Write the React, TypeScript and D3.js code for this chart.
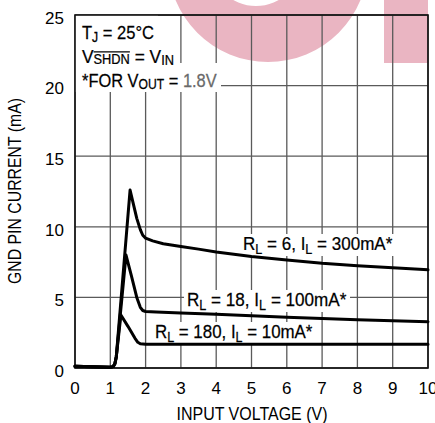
import React, { useEffect, useRef } from "react";
import * as d3 from "d3";

const W = 435;
const H = 423;
const FONT = "'Liberation Sans', Arial, Helvetica, sans-serif";

// axis ticks
const xTicks = [0, 1, 2, 3, 4, 5, 6, 7, 8, 9, 10];
const yTicks = [0, 5, 10, 15, 20, 25];
const xTickLabels = ["0", "1", "2", "3", "4", "5", "6", "7", "8", "9", "10"];
const yTickLabels = ["0", "5", "10", "15", "20", "25"];

// RL = 6, IL = 300mA
const vin300 = [0, 0.5, 1.0, 1.08, 1.13, 1.17, 1.56, 1.75, 1.85, 1.92, 2.0, 2.2, 2.5, 3, 3.5, 4, 5, 6, 7, 8, 9, 10];
const ignd300 = [0.12, 0.08, 0.05, 0.1, 0.3, 0.8, 12.6, 10.6, 9.8, 9.4, 9.2, 9.0, 8.8, 8.6, 8.42, 8.22, 7.9, 7.65, 7.42, 7.25, 7.1, 6.95];

// RL = 18, IL = 100mA
const vin100 = [0, 0.5, 1.0, 1.08, 1.13, 1.17, 1.445, 1.6, 1.75, 1.85, 1.92, 2.0, 2.3, 3, 4, 5, 6, 7, 8, 9, 10];
const ignd100 = [0.12, 0.08, 0.05, 0.1, 0.3, 0.8, 8.0, 6.5, 5.0, 4.3, 4.07, 4.0, 3.97, 3.9, 3.8, 3.7, 3.6, 3.5, 3.42, 3.35, 3.28];

// RL = 180, IL = 10mA
const vin10 = [0, 0.5, 1.0, 1.08, 1.13, 1.17, 1.3, 1.5, 1.7, 1.78, 1.85, 2.0, 3, 10];
const ignd10 = [0.12, 0.08, 0.05, 0.1, 0.3, 0.8, 3.75, 2.95, 2.1, 1.82, 1.72, 1.68, 1.68, 1.68];

type Seg = { t: string; small?: boolean; shift?: number; over?: boolean; fill?: string };

const annotLines: Seg[][] = [
  [{ t: "T" }, { t: "J", small: true, shift: 3 }, { t: " = 25°C" }],
  [{ t: "V" }, { t: "SHDN", small: true, shift: 0.5, over: true }, { t: " = V" }, { t: "IN", small: true, shift: 1.5 }],
  [{ t: "*FOR V" }, { t: "OUT", small: true, shift: 1.5 }, { t: " = " }, { t: "1.8V", fill: "#6a6a6a" }],
];

const curveLabels: Seg[][] = [
  [{ t: "R" }, { t: "L", small: true, shift: 4 }, { t: " = 6, I" }, { t: "L", small: true, shift: 4 }, { t: " = 300mA*" }],
  [{ t: "R" }, { t: "L", small: true, shift: 4 }, { t: " = 18, I" }, { t: "L", small: true, shift: 4 }, { t: " = 100mA*" }],
  [{ t: "R" }, { t: "L", small: true, shift: 4 }, { t: " = 180, I" }, { t: "L", small: true, shift: 4 }, { t: " = 10mA*" }],
];

const xTitle = "INPUT VOLTAGE (V)";
const yTitle = "GND PIN CURRENT (mA)";

export default function App() {
  const ref = useRef<SVGSVGElement | null>(null);

  useEffect(() => {
    const svg = d3.select(ref.current);
    svg.selectAll("*").remove();

    const left = 75, right = 428, top = 15, bottom = 368;
    const x = d3.scaleLinear().domain([0, 10]).range([left, right]);
    const y = d3.scaleLinear().domain([0, 25]).range([bottom, top]);

    svg.append("rect").attr("width", W).attr("height", H).attr("fill", "#fff");

    // watermark (pale logo fragment)
    const wm = svg.append("g").attr("fill", "#eab5c2");
    const p = d3.path();
    p.moveTo(268 + 100, -38);
    p.arc(268, -38, 100, 0, 2 * Math.PI);
    p.closePath();
    p.moveTo(256 + 46, -40);
    p.arc(256, -40, 46, 0, 2 * Math.PI);
    p.closePath();
    wm.append("path").attr("d", p.toString()).attr("fill-rule", "evenodd");
    wm.append("rect").attr("x", 384).attr("y", 0).attr("width", 44).attr("height", 63);

    const gridL = svg.append("g");
    const bgL = svg.append("g");
    const frameL = svg.append("g");
    const curveL = svg.append("g");
    const textL = svg.append("g");

    // grid
    xTicks.forEach((v) => {
      gridL.append("line").attr("x1", x(v)).attr("x2", x(v)).attr("y1", top).attr("y2", bottom)
        .attr("stroke", "#5a5a5a").attr("stroke-width", 1.3);
    });
    yTicks.forEach((v) => {
      gridL.append("line").attr("x1", left).attr("x2", right).attr("y1", y(v)).attr("y2", y(v))
        .attr("stroke", "#5a5a5a").attr("stroke-width", 1.3);
    });

    frameL.append("rect").attr("x", left).attr("y", top).attr("width", right - left).attr("height", bottom - top)
      .attr("fill", "none").attr("stroke", "#111").attr("stroke-width", 1.6);

    // curves
    const line = d3.line<[number, number]>().x((d) => x(d[0])).y((d) => y(d[1])).curve(d3.curveLinear);
    const series: [number[], number[]][] = [[vin300, ignd300], [vin100, ignd100], [vin10, ignd10]];
    series.forEach(([vx, vy]) => {
      const pts = vx.map((v, i) => [v, vy[i]] as [number, number]);
      curveL.append("path").attr("d", line(pts) as string).attr("fill", "none").attr("stroke", "#000")
        .attr("stroke-width", 3).attr("stroke-linejoin", "round").attr("stroke-linecap", "round");
    });

    function rich(segs: Seg[], size: number, xLeft: number, base: number, target: number) {
      const g = textL.append("g");
      const text = g.append("text").attr("font-size", size).attr("font-family", FONT).attr("fill", "#000")
        .attr("stroke", "#000").attr("stroke-width", 0.25);
      let cur = 0;
      const overs: { node: SVGTSpanElement; shift: number }[] = [];
      segs.forEach((s) => {
        const ts = text.append("tspan").text(s.t);
        const sh = s.shift ?? 0;
        if (sh - cur !== 0) ts.attr("dy", sh - cur);
        cur = sh;
        if (s.small) ts.attr("font-size", size * 0.74);
        if (s.fill) ts.attr("fill", s.fill).attr("stroke", s.fill);
        if (s.over) overs.push({ node: ts.node() as SVGTSpanElement, shift: sh });
      });
      overs.forEach(({ node, shift }) => {
        const n = node.getNumberOfChars();
        const sx = node.getStartPositionOfChar(0).x;
        const ex = node.getEndPositionOfChar(n - 1).x;
        const oy = shift - size * 0.74 * 0.83;
        g.append("line").attr("x1", sx).attr("x2", ex).attr("y1", oy).attr("y2", oy)
          .attr("stroke", "#000").attr("stroke-width", 1.2);
      });
      const bb = (text.node() as SVGTextElement).getBBox();
      const k = target / bb.width;
      g.attr("transform", `translate(${xLeft - bb.x * k},${base}) scale(${k},1)`);
      return { xLeft, width: target };
    }

    // annotation block
    const annotBases = [39, 63, 87];
    const annotWidths = [72, 92, 135];
    annotLines.forEach((segs, i) => {
      const r = rich(segs, 19, 82, annotBases[i], annotWidths[i]);
      const yTop = i === 0 ? top : annotBases[i] - 24;
      bgL.append("rect").attr("x", left).attr("y", yTop).attr("width", r.xLeft + r.width + 4 - left)
        .attr("height", annotBases[i] + 5 - yTop).attr("fill", "#fff");
    });

    // curve labels
    const labelPos = [
      { x: 243, b: 250, w: 150 },
      { x: 187, b: 306, w: 160 },
      { x: 155, b: 338, w: 158 },
    ];
    curveLabels.forEach((segs, i) => {
      const q = labelPos[i];
      rich(segs, 19, q.x, q.b, q.w);
      bgL.append("rect").attr("x", q.x - 3).attr("y", q.b - 16).attr("width", q.w + 6).attr("height", 22)
        .attr("fill", "#fff");
    });

    // tick labels
    xTicks.forEach((v, i) => {
      textL.append("text").attr("x", x(v)).attr("y", 394).attr("text-anchor", "middle")
        .attr("font-size", 17).attr("font-family", FONT).attr("fill", "#000").text(xTickLabels[i]);
    });
    yTicks.forEach((v, i) => {
      textL.append("text").attr("x", 64).attr("y", y(v) + 8.8).attr("text-anchor", "end")
        .attr("font-size", 17).attr("font-family", FONT).attr("fill", "#000").text(yTickLabels[i]);
    });

    // axis titles
    {
      const g = textL.append("g");
      const t = g.append("text").attr("text-anchor", "middle").attr("font-size", 18).attr("font-family", FONT)
        .attr("fill", "#000").text(xTitle);
      const bb = (t.node() as SVGTextElement).getBBox();
      const k = 151 / bb.width;
      g.attr("transform", `translate(252,420) scale(${k},1)`);
    }
    {
      const g = textL.append("g");
      const t = g.append("text").attr("text-anchor", "middle").attr("font-size", 18).attr("font-family", FONT)
        .attr("fill", "#000").text(yTitle);
      const bb = (t.node() as SVGTextElement).getBBox();
      const k = 186 / bb.width;
      g.attr("transform", `translate(21,191) rotate(-90) scale(${k},1)`);
    }
  }, []);

  return (
    <svg
      ref={ref}
      width={W}
      height={H}
      style={{ position: "absolute", left: 0, top: 0, display: "block" }}
    />
  );
}
